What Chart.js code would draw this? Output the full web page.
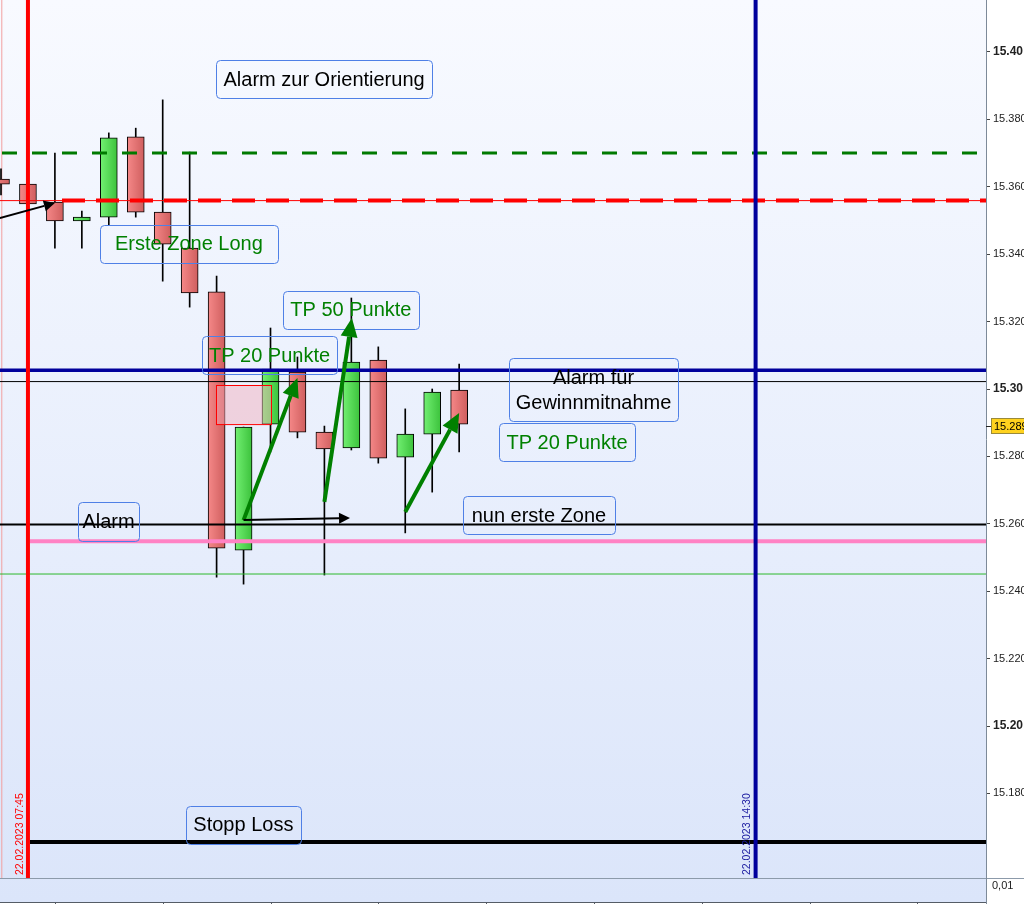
<!DOCTYPE html>
<html><head><meta charset="utf-8">
<script src="https://cdn.jsdelivr.net/npm/chart.js@4/dist/chart.umd.min.js"></script>
<style>html,body{margin:0;padding:0;background:#fff;overflow:hidden}#wrap{width:1024px;height:904px;position:relative}</style>
</head><body><div id="wrap"><canvas id="c" width="1024" height="904"></canvas></div>
<script>
// ---- data ----
const candleIndex = [0,1,2,3,4,5,6,7,8,9,10,11,12,13,14,15,16,17];
const opens  = [15.3623,15.3608,15.3555,15.3499,15.3510,15.3748,15.3525,15.3418,15.3288,15.2522,15.2896,15.3050,15.2872,15.2825,15.3086,15.2798,15.2866,15.2997];
const highs  = [15.3653,15.3617,15.3700,15.3528,15.3760,15.3774,15.3858,15.3703,15.3335,15.2887,15.3181,15.3095,15.2890,15.3270,15.3125,15.2941,15.3000,15.3074];
const lows   = [15.3576,15.3540,15.3418,15.3418,15.3487,15.3510,15.3320,15.3243,15.2442,15.2421,15.2813,15.2855,15.2448,15.2819,15.2780,15.2573,15.2694,15.2813];
const closes = [15.3608,15.3549,15.3499,15.3510,15.3745,15.3525,15.3430,15.3285,15.2528,15.2887,15.3059,15.2872,15.2822,15.3080,15.2795,15.2866,15.2991,15.2896];
const yTicks = [15.18,15.20,15.22,15.24,15.26,15.28,15.30,15.32,15.34,15.36,15.38,15.40];
const boldTicks = [15.20,15.30,15.40];
const lastPriceLabel = "15.289";
const lastPrice = 15.289;
// horizontal levels
const levelGreenDash = 15.3700;
const levelRedDash = 15.3559;
const levelNavy = 15.3056;
const levelThinBlack = 15.3022;
const levelAlarm = 15.2598;
const levelPink = 15.2548;
const levelThinGreen = 15.2451;
const levelStop = 15.1656;
// vertical time markers (candle index) and labels
const timeMarkIdx = [1, 28];
const timeMarkLabels = ["22.02.2023 07:45", "22.02.2023 14:30"];
// highlighted zone [x1,x2,p1,p2]
const zoneBox = [7.98, 10.02, 15.3012, 15.2896];
// arrows: [x1,p1,x2,p2]
const arrowsBlack = [[-0.04,15.3507,2.0,15.3552],[9.0,15.2611,12.95,15.2617]];
const arrowsGreen = [[9.0,15.2611,11.0,15.3033],[12.0,15.2665,13.02,15.3211],[15.0,15.2635,17.0,15.2929]];
// notes
const noteTexts = ["Alarm zur Orientierung","Erste Zone Long","TP 50 Punkte","TP 20 Punkte","Alarm für\nGewinnmitnahme","TP 20 Punkte","Alarm","nun erste Zone","Stopp Loss"];
const noteX = [7.98,3.67,10.46,7.46,18.85,18.48,2.86,17.14,6.86];
const noteP = [15.3976,15.3487,15.3291,15.3157,15.3092,15.2899,15.2665,15.2682,15.1763];
const noteKind = ["alarm","tp","tp","tp","alarm","tp","alarm","alarm","alarm"];

// ---- styles ----
const noteW = [216,178,136,135,169,136,61,152,115];
const noteH = [38,38,38,38,63,38,39,38,38];
const FONT = '"Liberation Sans", Arial, sans-serif';

function bodyFill(ctx){
  const i = ctx.dataIndex;
  const up = closes[i] >= opens[i];
  const chart = ctx.chart;
  if(!chart.chartArea || !chart.scales.x) return up ? '#55dd55' : '#e07070';
  const x = chart.scales.x.getPixelForValue(candleIndex[i]);
  const g = chart.ctx.createLinearGradient(x-8.5,0,x+8.5,0);
  if(up){ g.addColorStop(0,'#72f072'); g.addColorStop(1,'#3cc23c'); }
  else { g.addColorStop(0,'#f58888'); g.addColorStop(1,'#cf5e5e'); }
  return g;
}

function hLine(c, chart, price, color, width, dash, x0){
  const ya = chart.scales.y.getPixelForValue(price);
  const ca = chart.chartArea;
  c.save();
  c.strokeStyle = color; c.lineWidth = width;
  c.setLineDash(dash || []);
  c.beginPath(); c.moveTo(x0 == null ? ca.left : x0, ya); c.lineTo(ca.right, ya); c.stroke();
  c.restore();
}

function arrow(c, x1,y1,x2,y2,color,width,hl,hw){
  const ang = Math.atan2(y2-y1,x2-x1);
  const bx = x2 - hl*Math.cos(ang), by = y2 - hl*Math.sin(ang);
  c.save();
  c.strokeStyle = color; c.fillStyle = color; c.lineWidth = width; c.lineCap='butt';
  c.beginPath(); c.moveTo(x1,y1); c.lineTo(bx,by); c.stroke();
  c.beginPath();
  c.moveTo(x2,y2);
  c.lineTo(bx + hw/2*Math.sin(ang), by - hw/2*Math.cos(ang));
  c.lineTo(bx - hw/2*Math.sin(ang), by + hw/2*Math.cos(ang));
  c.closePath(); c.fill();
  c.restore();
}

const bgPlugin = {
  id:'bg',
  beforeDraw(chart){
    const c = chart.ctx, ca = chart.chartArea;
    c.save();
    c.fillStyle = '#ffffff'; c.fillRect(0,0,chart.width,chart.height);
    const g = c.createLinearGradient(0,0,0,902);
    g.addColorStop(0,'#f8faff'); g.addColorStop(1,'#dbe5fa');
    c.fillStyle = g; c.fillRect(0,0,ca.right,902);
    c.restore();
  },
  beforeDatasetsDraw(chart){
    const c = chart.ctx, ca = chart.chartArea;
    const x = chart.scales.x.getPixelForValue(0.03);
    c.save(); c.strokeStyle = '#f2a0a0'; c.lineWidth = 1;
    c.beginPath(); c.moveTo(x, ca.top); c.lineTo(x, ca.bottom); c.stroke(); c.restore();
  },
  afterDatasetsDraw(chart){
    const c = chart.ctx, ca = chart.chartArea, xs = chart.scales.x, ys = chart.scales.y;
    const xStart = xs.getPixelForValue(timeMarkIdx[0]) + 2;
    // horizontal levels
    hLine(c, chart, levelGreenDash, '#007a00', 3, [15,15], ca.left+2);
    hLine(c, chart, levelRedDash, '#ff0000', 1, null, ca.left);
    hLine(c, chart, levelRedDash, '#ff0000', 4, [23,11], ca.left+62);
    hLine(c, chart, levelThinBlack, '#000000', 1);
    hLine(c, chart, levelNavy, '#00009c', 3.5);
    hLine(c, chart, levelThinGreen, '#2cb82c', 1);
    hLine(c, chart, levelAlarm, '#000000', 2);
    hLine(c, chart, levelPink, '#ff82c4', 4, null, xStart);
    hLine(c, chart, levelStop, '#000000', 4, null, xStart);
    // vertical time markers
    const vColors = ['#ff0000','#00009c'];
    const tColors = ['#ff0000','#1a1aa0'];
    timeMarkIdx.forEach((idx,k)=>{
      const x = xs.getPixelForValue(idx);
      c.save(); c.strokeStyle = vColors[k]; c.lineWidth = 4;
      c.beginPath(); c.moveTo(x, ca.top); c.lineTo(x, ca.bottom); c.stroke();
      c.translate(x-8, ca.bottom-3); c.rotate(-Math.PI/2);
      c.fillStyle = tColors[k]; c.font = '10.5px '+FONT; c.textAlign='left'; c.textBaseline='middle';
      c.fillText(timeMarkLabels[k], 0, 0);
      c.restore();
    });
    // zone rectangle
    const zx1 = xs.getPixelForValue(zoneBox[0]), zx2 = xs.getPixelForValue(zoneBox[1]);
    const zy1 = ys.getPixelForValue(zoneBox[2]), zy2 = ys.getPixelForValue(zoneBox[3]);
    c.save(); c.fillStyle = 'rgba(245,170,185,0.45)'; c.fillRect(zx1,zy1,zx2-zx1,zy2-zy1);
    c.strokeStyle = '#ff0000'; c.lineWidth = 1; c.strokeRect(Math.round(zx1)+0.5,Math.round(zy1)+0.5,zx2-zx1,zy2-zy1); c.restore();
    // notes
    noteTexts.forEach((t,i)=>{
      const x = xs.getPixelForValue(noteX[i]), y = ys.getPixelForValue(noteP[i]);
      c.save();
      c.strokeStyle = '#4f80e6'; c.lineWidth = 1;
      c.beginPath(); c.roundRect(Math.round(x)+0.5, Math.round(y)+0.5, noteW[i], noteH[i], 4); c.stroke();
      c.fillStyle = noteKind[i]==='tp' ? '#008000' : '#000000';
      c.font = '20px '+FONT; c.textAlign='center'; c.textBaseline='middle';
      const lines = t.split('\n');
      const cy = y + noteH[i]/2 + 1;
      lines.forEach((ln,j)=>{ c.fillText(ln, x + noteW[i]/2, cy + (j-(lines.length-1)/2)*25); });
      c.restore();
    });
    // arrows
    arrowsGreen.forEach(a=>{
      arrow(c, xs.getPixelForValue(a[0]), ys.getPixelForValue(a[1]), xs.getPixelForValue(a[2]), ys.getPixelForValue(a[3]), '#008000', 4, 19, 17);
    });
    arrowsBlack.forEach(a=>{
      arrow(c, xs.getPixelForValue(a[0]), ys.getPixelForValue(a[1]), xs.getPixelForValue(a[2]), ys.getPixelForValue(a[3]), '#000000', 2, 11, 11);
    });
  },
  afterDraw(chart){
    const c = chart.ctx, ca = chart.chartArea, xs = chart.scales.x, ys = chart.scales.y;
    c.save();
    // bottom strip
    c.strokeStyle = '#8c9aaa'; c.lineWidth = 1;
    c.beginPath(); c.moveTo(0, ca.bottom+0.5); c.lineTo(chart.width, ca.bottom+0.5); c.stroke();
    c.strokeStyle = '#555c66';
    c.beginPath(); c.moveTo(0, 902.5); c.lineTo(ca.right, 902.5); c.stroke();
    for(let k=2; k<=36; k+=4){
      const x = Math.round(xs.getPixelForValue(k))+0.5;
      c.beginPath(); c.moveTo(x, 902); c.lineTo(x, 904); c.stroke();
    }
    c.strokeStyle = '#7d8a99';
    c.beginPath(); c.moveTo(ca.right+0.5, ca.bottom); c.lineTo(ca.right+0.5, 904); c.stroke();
    c.fillStyle = '#222'; c.font = '11px '+FONT; c.textBaseline='middle'; c.textAlign='left';
    c.fillText('0,01', 992, 886);
    // last price label
    const py = Math.round(ys.getPixelForValue(lastPrice));
    c.strokeStyle = '#222'; c.beginPath(); c.moveTo(ca.right, py+0.5); c.lineTo(ca.right+5, py+0.5); c.stroke();
    c.fillStyle = '#ffd21e'; c.fillRect(991.5, py-7.5, 34, 15);
    c.strokeStyle = '#9a8a3a'; c.strokeRect(991.5, py-7.5, 34, 15);
    c.fillStyle = '#000'; c.fillText(lastPriceLabel, 994, py+0.5);
    c.restore();
  }
};

new Chart(document.getElementById('c'), {
  type: 'bar',
  data: {
    datasets: [
      { label:'Körper', order:0, grouped:false, barThickness:17,
        data: candleIndex.map((x,i)=>({x:x, y:[opens[i], closes[i]]})),
        backgroundColor: bodyFill, borderColor:'#000', borderWidth:1, borderSkipped:false },
      { label:'Docht', order:1, grouped:false, barThickness:1,
        data: candleIndex.map((x,i)=>({x:x, y:[lows[i], highs[i]]})),
        backgroundColor:'#000', borderWidth:0 }
    ]
  },
  options: {
    responsive:false, animation:false, devicePixelRatio:1,
    layout:{ padding:{ left:0, right:0, top:0, bottom:26 } },
    plugins:{ legend:{display:false}, tooltip:{enabled:false} },
    scales:{
      x:{ type:'linear', display:false, min:-0.0371, max:36.549, offset:false },
      y:{ position:'right', min:15.15490, max:15.41543,
          afterBuildTicks:(s)=>{ s.ticks = yTicks.map(v=>({value:v})); },
          afterFit:(s)=>{ s.width = 38; s.paddingTop = 0; s.paddingBottom = 0; },
          ticks:{ padding:3, color:'#222',
            callback:(v)=> boldTicks.some(b=>Math.abs(b-v)<1e-6) ? v.toFixed(2) : v.toFixed(3),
            font:(ctx)=> (ctx.tick && boldTicks.some(b=>Math.abs(b-ctx.tick.value)<1e-6)) ? {family:FONT,size:12,weight:'bold'} : {family:FONT,size:11} },
          grid:{ drawOnChartArea:false, tickLength:4, color:'#444' },
          border:{ color:'#7d8a99' } }
    }
  },
  plugins:[bgPlugin]
});
</script>
</body></html>
